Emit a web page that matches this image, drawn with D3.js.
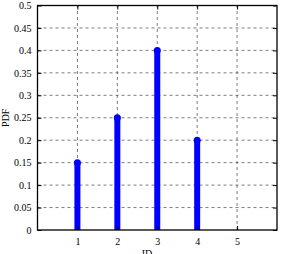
<!DOCTYPE html>
<html><head><meta charset="utf-8">
<script src="https://cdn.jsdelivr.net/npm/d3@7"></script>
<style>body{margin:0;background:#fff}svg{display:block}</style>
</head><body>
<script>
const ids = [1, 2, 3, 4];
const pdf = [0.15, 0.25, 0.40, 0.20];
const xTicks = [1, 2, 3, 4, 5];
const yTicks = [0, 0.05, 0.1, 0.15, 0.2, 0.25, 0.3, 0.35, 0.4, 0.45, 0.5];

const W = 282, H = 254;
const m = {l: 37.5, r: 5, t: 5.5, b: 24};
const svg = d3.select("body").append("svg").attr("width", W).attr("height", H);
const x = d3.scaleLinear().domain([0, 6]).range([m.l, W - m.r]);
const y = d3.scaleLinear().domain([0, 0.5]).range([H - m.b, m.t]);
const font = "'Liberation Serif','Times New Roman',serif";

const g = svg.append("g");
// grid
g.selectAll(".gx").data(xTicks).enter().append("line")
  .attr("x1", d => x(d)).attr("x2", d => x(d)).attr("y1", y(0)).attr("y2", y(0.5))
  .attr("stroke", "#444").attr("stroke-width", 0.7).attr("stroke-dasharray", "3,3");
g.selectAll(".gy").data(yTicks.slice(1, -1)).enter().append("line")
  .attr("y1", d => y(d)).attr("y2", d => y(d)).attr("x1", x(0)).attr("x2", x(6))
  .attr("stroke", "#444").attr("stroke-width", 0.7).attr("stroke-dasharray", "3,3");

// stems
g.selectAll(".stem").data(ids).enter().append("line")
  .attr("x1", d => x(d)).attr("x2", d => x(d))
  .attr("y1", y(0)).attr("y2", (d, i) => y(pdf[i]))
  .attr("stroke", "#0000ff").attr("stroke-width", 6);
g.selectAll(".dot").data(ids).enter().append("circle")
  .attr("cx", d => x(d)).attr("cy", (d, i) => y(pdf[i])).attr("r", 3.5)
  .attr("fill", "#0000ff");

// axes
const ax = d3.axisBottom(x).tickValues(xTicks).tickSize(-4).tickPadding(8).tickFormat(d3.format("d"));
const ay = d3.axisLeft(y).tickValues(yTicks).tickSize(-4).tickPadding(6).tickFormat(d => String(d));
const axT = d3.axisTop(x).tickValues(xTicks).tickSize(-4).tickFormat("");
const axR = d3.axisRight(y).tickValues(yTicks).tickSize(-4).tickFormat("");
function style(sel) {
  sel.select(".domain").remove();
  sel.selectAll("line").attr("stroke", "#000").attr("stroke-width", 1);
  sel.selectAll("text").attr("font-family", font).attr("font-size", 10).attr("fill", "#000");
}
svg.append("g").attr("transform", `translate(0,${y(0)})`).call(ax).call(style);
svg.append("g").attr("transform", `translate(${x(0)},0)`).call(ay).call(style);
svg.append("g").attr("transform", `translate(0,${y(0.5)})`).call(axT).call(style);
svg.append("g").attr("transform", `translate(${x(6)},0)`).call(axR).call(style);

svg.append("rect").attr("x", x(0)).attr("y", y(0.5)).attr("width", x(6) - x(0)).attr("height", y(0) - y(0.5))
  .attr("fill", "none").attr("stroke", "#000").attr("stroke-width", 1.3);

svg.append("text").attr("x", 147).attr("y", 256.5).attr("text-anchor", "middle")
  .attr("font-family", font).attr("font-size", 10).text("ID");
svg.append("text").attr("transform", `translate(9,${(y(0) + y(0.5)) / 2}) rotate(-90)`).attr("text-anchor", "middle")
  .attr("font-family", font).attr("font-size", 10).text("PDF");
</script>
</body></html>
